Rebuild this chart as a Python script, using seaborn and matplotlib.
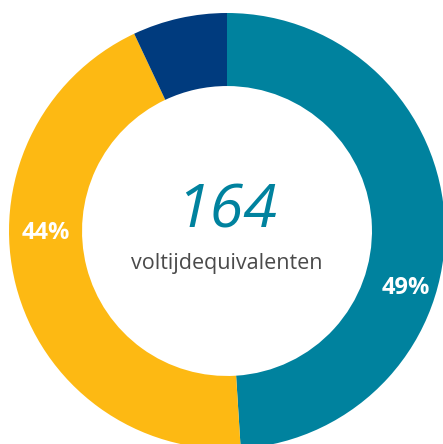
import seaborn as sns
import matplotlib.pyplot as plt

# FTE split (share of 164 full-time equivalents)
segments = ['teal', 'yellow', 'navy']
shares = [49, 44, 7]
labels = ['49%', '44%', '']
colors = ['#00829E', '#FDB913', '#003B7E']
total = 164
caption = 'voltijdequivalenten'

sns.set_theme(style='white')
plt.rcParams['font.family'] = ['Open Sans', 'DejaVu Sans']

fig = plt.figure(figsize=(4.43, 4.44), dpi=100)
ax = fig.add_axes([0, 0, 1, 1])

wedges, _ = ax.pie(shares, colors=colors, startangle=90, counterclock=False,
                   radius=1, wedgeprops=dict(width=0.335, linewidth=0))

# percentage labels (positioned along the ring)
ax.text(-0.83, -0.01, labels[1], color='white', fontsize=17, fontweight='bold',
        ha='center', va='center')
ax.text(0.82, -0.26, labels[0], color='white', fontsize=17, fontweight='bold',
        ha='center', va='center')

ax.text(0.0, 0.09, str(total), color='#00829E', fontsize=44, style='italic',
        ha='center', va='center')
ax.text(0.0, -0.15, caption, color='#4a4a4a', fontsize=15.5,
        ha='center', va='center')

r = 218
ax.set_xlim(-227 / r, 216 / r)
ax.set_ylim(-213 / r, 231 / r)
ax.set_aspect('auto')
ax.axis('off')

fig.savefig('out.png', dpi=100)
